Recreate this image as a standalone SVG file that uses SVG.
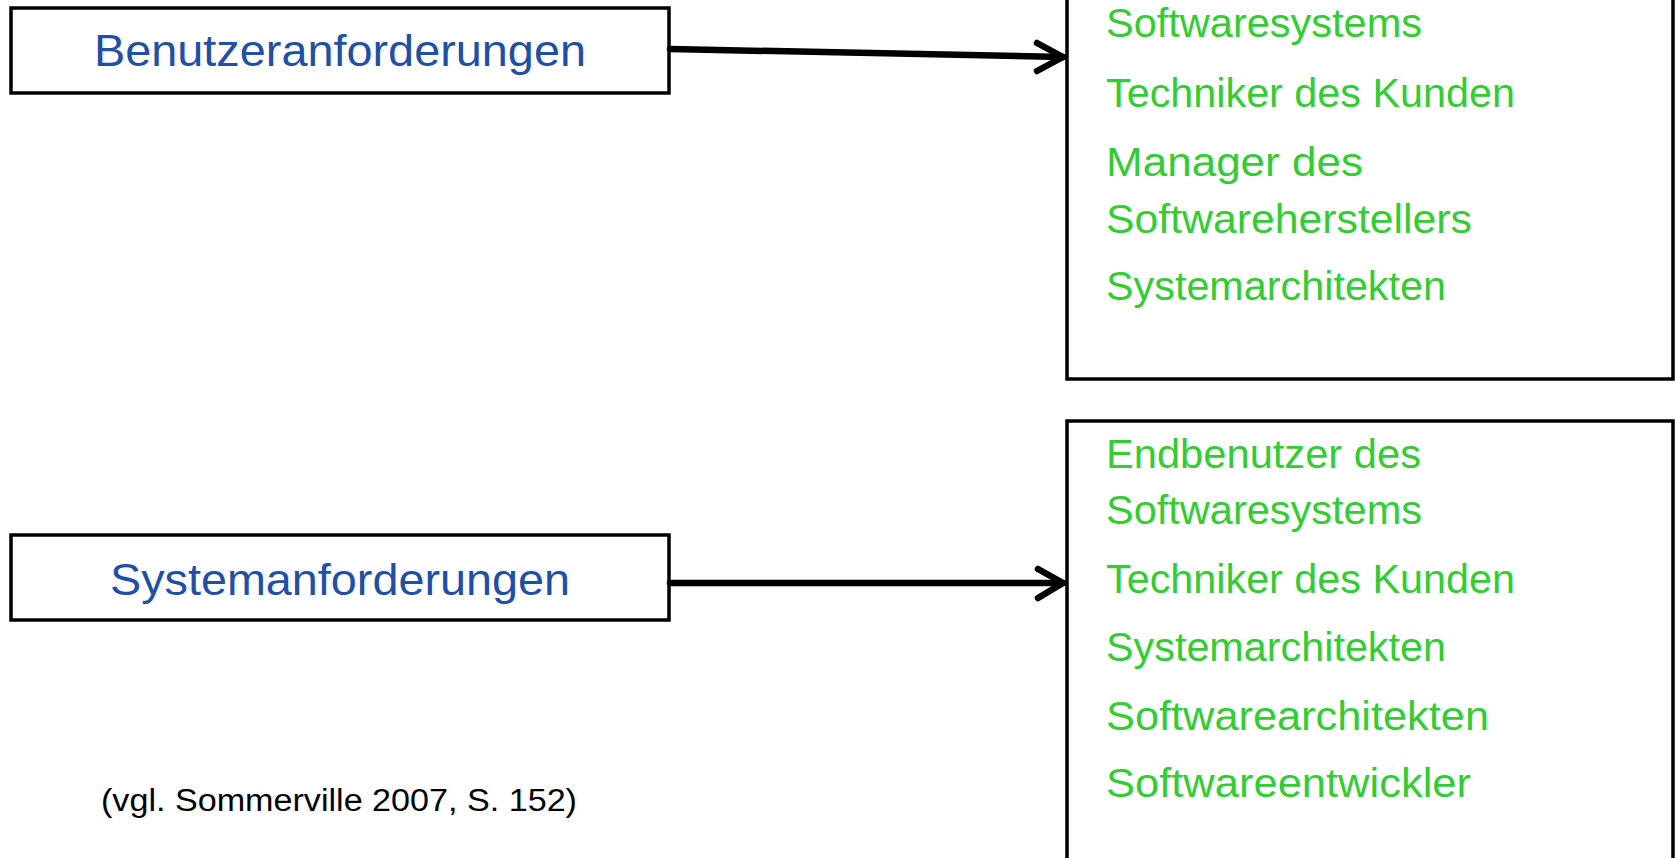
<svg xmlns="http://www.w3.org/2000/svg" width="1675" height="858" viewBox="0 0 1675 858">
<style>
.box{fill:#fff;stroke:#000;stroke-width:3.5}
.title{font-family:"Liberation Sans",Arial,sans-serif;font-size:45px;fill:#1f4fa6}
.item{font-family:"Liberation Sans",Arial,sans-serif;font-size:40px;fill:#33cc33}
.cite{font-family:"Liberation Sans",Arial,sans-serif;font-size:31px;fill:#000}
.conn{fill:none;stroke:#000;stroke-width:6.5;stroke-linecap:round;stroke-linejoin:round}
</style>
<rect width="1675" height="858" fill="#fff"/>
<g id="node-benutzer">
<rect class="box" x="11" y="8" width="658" height="85"/>
<text class="title" x="340" y="66" text-anchor="middle" textLength="492" lengthAdjust="spacingAndGlyphs">Benutzeranforderungen</text>
</g>
<g id="node-system">
<rect class="box" x="11" y="535" width="658" height="85"/>
<text class="title" x="340" y="595" text-anchor="middle" textLength="460" lengthAdjust="spacingAndGlyphs">Systemanforderungen</text>
</g>
<g id="node-leser1">
<rect class="box" x="1067" y="-10" width="606" height="389"/>
<text class="item" x="1106" y="37" textLength="316" lengthAdjust="spacingAndGlyphs">Softwaresystems</text>
<text class="item" x="1106" y="107" textLength="409" lengthAdjust="spacingAndGlyphs">Techniker des Kunden</text>
<text class="item" x="1106" y="176" textLength="257" lengthAdjust="spacingAndGlyphs">Manager des</text>
<text class="item" x="1106" y="233" textLength="366" lengthAdjust="spacingAndGlyphs">Softwareherstellers</text>
<text class="item" x="1106" y="300" textLength="340" lengthAdjust="spacingAndGlyphs">Systemarchitekten</text>
</g>
<g id="node-leser2">
<rect class="box" x="1067" y="421" width="606" height="460"/>
<text class="item" x="1106" y="468" textLength="315" lengthAdjust="spacingAndGlyphs">Endbenutzer des</text>
<text class="item" x="1106" y="524" textLength="316" lengthAdjust="spacingAndGlyphs">Softwaresystems</text>
<text class="item" x="1106" y="593" textLength="409" lengthAdjust="spacingAndGlyphs">Techniker des Kunden</text>
<text class="item" x="1106" y="661" textLength="340" lengthAdjust="spacingAndGlyphs">Systemarchitekten</text>
<text class="item" x="1106" y="730" textLength="383" lengthAdjust="spacingAndGlyphs">Softwarearchitekten</text>
<text class="item" x="1106" y="797" textLength="365" lengthAdjust="spacingAndGlyphs">Softwareentwickler</text>
</g>
<g id="connectors">
<path class="conn" d="M670 49 L1063 57"/>
<path class="conn" d="M1037 43 L1063 57 L1037 71"/>
<path class="conn" d="M670 583 L1063 583"/>
<path class="conn" d="M1038 569 L1063 583 L1038 598"/>
</g>
<text class="cite" x="101" y="811" textLength="476" lengthAdjust="spacingAndGlyphs">(vgl. Sommerville 2007, S. 152)</text>
</svg>
